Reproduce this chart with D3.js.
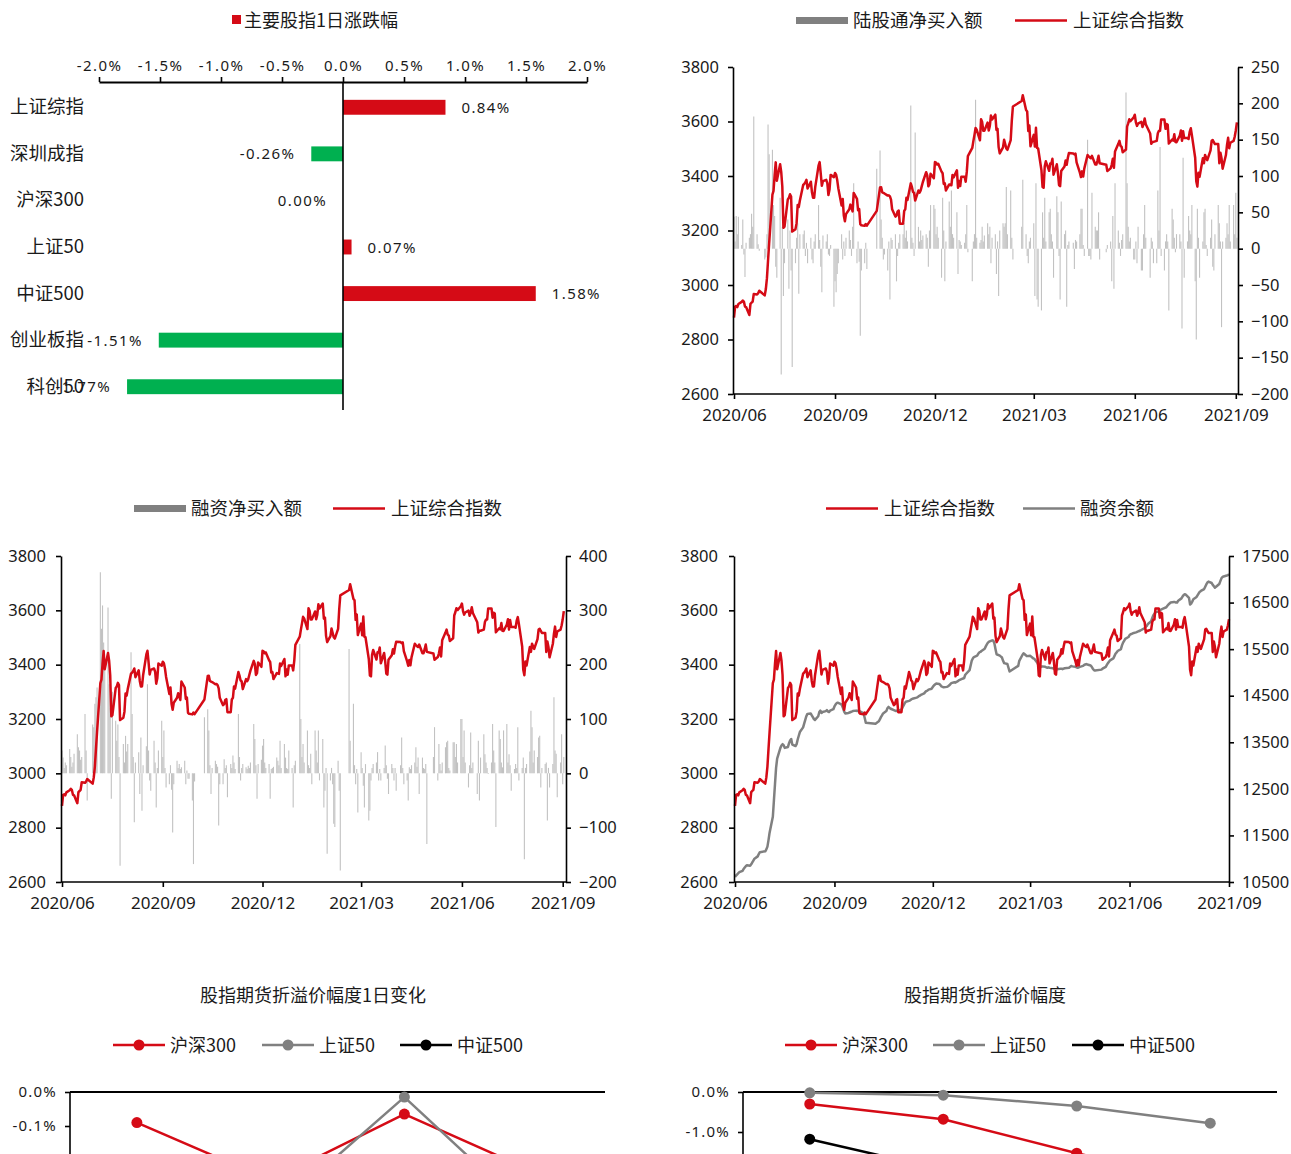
<!DOCTYPE html>
<html><head><meta charset="utf-8">
<script src="https://cdn.jsdelivr.net/npm/d3@7"></script>
<style>
html,body{margin:0;padding:0;background:#fff;overflow:hidden;}
svg{display:block;}
</style></head><body>
<svg id="c" width="1291" height="1154"></svg>
<script>
// ---------- DATA ----------
const barCategories = ["上证综指","深圳成指","沪深300","上证50","中证500","创业板指","科创50"];
const barValues = [0.84,-0.26,0.00,0.07,1.58,-1.51,-1.77];
const barTicks = [-2,-1.5,-1,-0.5,0,0.5,1,1.5,2];

const tradeMonths = [
 ["2020-06",[1,2,3,4,5,8,9,10,11,12,15,16,17,18,19,22,23,24,29,30]],
 ["2020-07",[1,2,3,6,7,8,9,10,13,14,15,16,17,20,21,22,23,24,27,28,29,30,31]],
 ["2020-08",[3,4,5,6,7,10,11,12,13,14,17,18,19,20,21,24,25,26,27,28,31]],
 ["2020-09",[1,2,3,4,7,8,9,10,11,14,15,16,17,18,21,22,23,24,25,28,29,30]],
 ["2020-10",[9,12,13,14,15,16,19,20,21,22,23,26,27,28,29,30]],
 ["2020-11",[2,3,4,5,6,9,10,11,12,13,16,17,18,19,20,23,24,25,26,27,30]],
 ["2020-12",[1,2,3,4,7,8,9,10,11,14,15,16,17,18,21,22,23,24,25,28,29,30,31]],
 ["2021-01",[4,5,6,7,8,11,12,13,14,15,18,19,20,21,22,25,26,27,28,29]],
 ["2021-02",[1,2,3,4,5,8,9,10,18,19,22,23,24,25,26]],
 ["2021-03",[1,2,3,4,5,8,9,10,11,12,15,16,17,18,19,22,23,24,25,26,29,30,31]],
 ["2021-04",[1,2,6,7,8,9,12,13,14,15,16,19,20,21,22,23,26,27,28,29,30]],
 ["2021-05",[6,7,10,11,12,13,14,17,18,19,20,21,24,25,26,27,28,31]],
 ["2021-06",[1,2,3,4,7,8,9,10,11,15,16,17,18,21,22,23,24,25,28,29,30]],
 ["2021-07",[1,2,5,6,7,8,9,12,13,14,15,16,19,20,21,22,23,26,27,28,29,30]],
 ["2021-08",[2,3,4,5,6,9,10,11,12,13,16,17,18,19,20,23,24,25,26,27,30,31]],
 ["2021-09",[1,2]]
];

// 上证综合指数
const sse = [
 2880,2921,2923,2919,2930,2938,2943,2939,2921,2919,2890,2931,2935,2939,2967,2965,2970,2979,2962,2985,
 3025,3090,3152,3332,3345,3403,3450,3383,3443,3415,3361,3210,3214,3314,3320,3333,3325,3196,3205,3227,3294,3286,3310,
 3367,3371,3377,3386,3354,3379,3340,3320,3320,3360,3438,3451,3409,3364,3381,3386,3374,3330,3350,3404,3396,
 3411,3405,3385,3355,3292,3316,3255,3234,3260,3278,3295,3283,3270,3338,3316,3274,3279,3223,3219,3217,3224,3218,
 3272,3358,3359,3340,3338,3336,3328,3329,3325,3313,3278,3251,3255,3270,3273,3225,
 3225,3272,3278,3320,3312,3373,3360,3342,3338,3310,3347,3339,3347,3363,3378,3414,3402,3362,3369,3408,3392,
 3451,3449,3442,3445,3416,3410,3371,3373,3347,3369,3367,3366,3404,3395,3421,3357,3382,3363,3397,3397,3379,3415,3473,
 3503,3528,3551,3576,3570,3531,3608,3598,3566,3566,3596,3567,3584,3622,3607,3625,3569,3573,3506,3483,
 3505,3533,3517,3501,3496,3532,3603,3655,3675,3696,3642,3637,3565,3585,3509,
 3551,3508,3577,3503,3501,3421,3360,3357,3436,3454,3419,3446,3445,3463,3405,3443,3411,3367,3363,3418,3435,3457,3441,
 3466,3484,3483,3479,3482,3450,3412,3396,3417,3398,3427,3477,3472,3468,3465,3474,3442,3442,3457,3474,3447,
 3441,3418,3428,3441,3463,3430,3490,3518,3529,3511,3507,3487,3497,3581,3593,3608,3601,3615,
 3625,3597,3584,3592,3599,3580,3591,3611,3590,3556,3518,3525,3525,3529,3557,3566,3566,3607,3607,3573,3591,
 3588,3519,3534,3530,3553,3525,3524,3548,3567,3529,3564,3539,3539,3536,3562,3575,3550,3467,3381,3361,3412,3397,
 3465,3447,3477,3467,3458,3494,3529,3532,3524,3517,3517,3447,3485,3465,3427,3477,3514,3540,3502,3522,3529,3544,
 3567,3597
];

// 陆股通净买入额（亿元）
const northbound = [
 44,10,45,20,44,5,40,-8,-39,8,15,20,48,30,182,20,6,-3,-15,-12,
 20,171,130,136,60,45,-25,-40,70,-173,30,-65,-20,40,-55,25,-30,-163,-20,15,35,-62,20,
 20,25,-10,8,-20,15,-15,-20,10,20,60,12,-25,-60,18,10,20,-8,-10,5,-80,
 -45,-60,-35,-20,20,-15,10,-10,15,25,12,-10,30,90,-20,10,-18,-120,-30,-20,8,-28,
 110,135,40,15,-15,-8,-30,10,-70,15,12,20,-45,-10,8,20,
 20,35,15,25,10,197,15,8,-10,160,30,10,25,12,18,20,15,-25,25,60,60,
 55,20,30,15,-40,70,25,-45,10,65,30,80,20,15,50,-35,12,10,5,8,20,60,-5,
 -45,10,20,205,15,8,12,30,10,18,35,20,30,-20,15,20,-35,10,-65,25,
 35,30,35,85,20,80,15,-15,30,95,20,-10,-20,10,15,
 35,-65,90,-70,-80,-85,50,15,70,10,50,55,20,10,-40,72,50,-10,-70,65,20,25,-80,
 5,10,8,-28,12,10,20,55,55,5,-10,150,-10,-10,-15,77,30,25,25,50,-15,
 -5,5,10,-45,45,-55,90,25,8,-10,12,20,215,90,30,10,15,-15,
 -15,10,-20,30,-30,-30,20,60,15,-40,15,10,-20,-20,80,25,140,-10,-30,10,20,
 10,-85,55,40,15,-5,20,20,10,-110,125,-40,10,45,25,20,60,-45,-125,55,15,-40,
 10,50,55,5,-10,15,40,-25,-30,20,60,35,10,-108,10,15,35,20,60,10,60,20,
 77,15
];

// 融资净买入额（亿元）
const marginNet = [
 42,29,10,20,15,45,30,12,20,36,72,48,42,25,30,109,42,-50,90,85,
 128,140,158,370,266,309,241,195,305,164,120,-47,150,97,60,90,30,-170,54,20,69,40,54,
 223,109,30,-90,20,39,-38,66,-69,15,50,164,42,-13,-32,60,20,-63,10,42,97,
 30,79,10,-26,-20,15,-30,-109,-20,23,10,17,8,11,23,-20,5,-10,-10,-50,-167,-15,
 103,118,79,15,-38,10,23,17,12,-96,-20,-20,26,10,15,-44,
 17,10,33,20,8,109,30,-13,10,17,11,8,14,10,20,91,63,15,-47,17,25,
 51,63,20,10,17,-47,8,10,12,29,23,15,60,10,54,29,10,8,42,10,-63,15,23,
 238,100,30,54,20,79,15,10,36,-20,79,42,20,79,-13,63,-63,-32,10,-148,
 -13,10,-20,-93,-99,23,-32,-179,229,60,128,15,-20,8,-72,
 39,10,-23,-63,17,-87,-69,-13,10,17,20,39,-13,8,-13,10,51,15,-10,-38,17,10,-13,
 10,-32,15,66,10,-20,-13,-50,11,8,15,20,48,12,29,-38,29,10,8,17,-130,
 30,85,-13,54,17,5,20,48,57,60,10,5,57,57,30,54,20,100,
 100,30,79,20,-26,15,75,10,20,-38,60,-50,29,72,35,20,10,-1,20,91,42,
 20,-99,79,63,20,11,79,91,20,35,15,-32,8,17,10,85,-13,10,29,-158,10,17,
 40,115,85,20,42,30,66,69,-26,10,17,20,-87,10,-26,17,140,42,36,-44,20,72,
 -20,30
];

// 融资余额（亿元），至 2021-09-01
const marginBal = [
 10610,10640,10660,10690,10710,10740,10780,10810,10840,10860,10850,10880,10920,10960,11000,11050,11100,11140,11160,11200,
 11260,11400,11560,11900,12250,12600,12950,13150,13380,13430,13460,13440,13380,13400,13480,13540,13570,13450,13420,13460,13560,13640,13720,
 13820,13900,13980,14060,14110,14120,14080,14040,14000,13980,14060,14150,14180,14130,14150,14170,14190,14160,14150,14180,14210,
 14270,14310,14340,14350,14320,14290,14230,14160,14120,14130,14140,14150,14160,14170,14180,14170,14180,14170,14160,14120,14020,13920,
 13900,13950,13990,14040,14080,14120,14170,14230,14260,14240,14220,14190,14180,14170,14180,14180,
 14200,14250,14290,14340,14370,14390,14400,14420,14430,14440,14460,14470,14490,14500,14520,14550,14580,14600,14610,14630,14650,
 14690,14720,14740,14760,14750,14730,14700,14690,14680,14690,14700,14720,14740,14770,14790,14780,14800,14810,14830,14860,14870,14880,14950,
 15050,15150,15250,15300,15330,15360,15400,15430,15440,15460,15510,15560,15600,15640,15660,15690,15680,15620,15500,15390,
 15360,15340,15320,15250,15200,15180,15100,15020,15140,15250,15380,15410,15390,15370,15350,
 15360,15340,15320,15300,15290,15200,15120,15110,15120,15130,15120,15110,15100,15110,15100,15090,15080,15060,15060,15070,15080,15080,15070,
 15080,15090,15100,15120,15140,15130,15120,15110,15100,15110,15120,15140,15160,15170,15180,15170,15150,15120,15080,15050,15040,
 15060,15080,15120,15160,15200,15230,15260,15300,15350,15400,15430,15460,15500,15580,15640,15680,15720,15760,
 15800,15820,15830,15840,15860,15870,15880,15890,15900,15950,15980,16000,16040,16100,16170,16230,16260,16290,16310,16330,16350,
 16360,16370,16400,16430,16460,16480,16500,16510,16510,16500,16500,16540,16590,16630,16660,16680,16670,16600,16460,16480,16520,16570,
 16620,16660,16700,16730,16750,16790,16840,16890,16930,16950,16920,16880,16850,16820,16840,16900,16960,17020,17050,17060,17080,17090,
 17110
];

const timeTicks = ["2020-06-01","2020-09-01","2020-12-01","2021-03-01","2021-06-01","2021-09-01"];
const leftTicks = [2600,2800,3000,3200,3400,3600,3800];
const northTicks = [-200,-150,-100,-50,0,50,100,150,200,250];
const marginNetTicks = [-200,-100,0,100,200,300,400];
const marginBalTicks = [10500,11500,12500,13500,14500,15500,16500,17500];

const futCategories = ["当月","下月","当季","下季"];
const futSeriesNames = ["沪深300","上证50","中证500"];
const futChange300 = [-0.09,-0.26,-0.065,-0.24];
const futChange50  = [-0.30,-0.36,-0.015,-0.38];
const futChange500 = [-0.45,-0.60,-0.35,-0.55];
const futChangeTicks = [0,-0.1];
const futLevel300 = [-0.30,-0.68,-1.53,-2.30];
const futLevel50  = [-0.02,-0.08,-0.35,-0.78];
const futLevel500 = [-1.18,-1.95,-2.90,-3.40];
const futLevelTicks = [0,-1];

// ---------- DRAW ----------
const RED = "#d50b16", GREEN = "#00b050", GRAY = "#808080", BARGRAY = "#c2c2c2", INK = "#1a1a1a";
const CJK = '"Noto Sans CJK SC","Noto Sans",sans-serif';
const NUM = '"Noto Sans","DejaVu Sans",sans-serif';
const svg = d3.select("#c");
const parse = d3.timeParse("%Y-%m-%d");
const dates = tradeMonths.flatMap(([m, days]) => days.map(d => parse(m + "-" + String(d).padStart(2, "0"))));
const tickDates = timeTicks.map(parse);
const intFmt = d3.format("d");

function styleAxis(sel, fs, family, ls) {
  sel.select(".domain").attr("stroke", "#000").attr("stroke-width", 1.6);
  sel.selectAll(".tick line").attr("stroke", "#000").attr("stroke-width", 1.6);
  sel.selectAll(".tick text").attr("fill", INK).style("font-size", fs + "px")
     .style("font-family", family || NUM).style("letter-spacing", ls || "0px");
}
function txt(x, y, s, size, anchor, family) {
  return svg.append("text").attr("x", x).attr("y", y).text(s)
    .attr("fill", INK).style("font-size", (size || 18) + "px")
    .style("font-family", family || CJK).attr("text-anchor", anchor || "start");
}

// ===== Panel 1: bar chart =====
(function () {
  const x = d3.scaleLinear().domain([-2, 2]).range([99, 587]);
  const y = d3.scaleBand().domain(barCategories).range([84, 410]).paddingInner(0.68).paddingOuter(0.34);
  svg.append("rect").attr("x", 232).attr("y", 15).attr("width", 9).attr("height", 9).attr("fill", RED);
  txt(244, 27, "主要股指1日涨跌幅", 18);
  const g = svg.append("g");
  g.selectAll("rect.bar").data(barCategories).join("rect")
    .attr("x", (c, i) => x(Math.min(0, barValues[i])))
    .attr("y", c => y(c))
    .attr("width", (c, i) => Math.abs(x(barValues[i]) - x(0)))
    .attr("height", y.bandwidth())
    .attr("fill", (c, i) => barValues[i] >= 0 ? RED : GREEN);
  const ax = svg.append("g").attr("transform", "translate(0,82)")
    .call(d3.axisTop(x).tickValues(barTicks).tickSize(5).tickPadding(6).tickSizeOuter(0)
      .tickFormat(v => (v < 0 ? "-" : "") + Math.abs(v).toFixed(1) + "%"));
  styleAxis(ax, 15, NUM, "1.4px");
  ax.select(".domain").attr("stroke-width", 2);
  svg.append("line").attr("x1", x(0)).attr("x2", x(0)).attr("y1", 82).attr("y2", 410)
    .attr("stroke", "#000").attr("stroke-width", 1.6);
  barCategories.forEach((c, i) => {
    const cy = y(c) + y.bandwidth() / 2;
    txt(84, cy + 6, c, 18.5, "end");
    const v = barValues[i];
    const lab = (v < 0 ? "-" : "") + Math.abs(v).toFixed(2) + "%";
    let tx, anc;
    if (v > 0) { tx = x(v) + 16; anc = "start"; }
    else { tx = x(v) - 16; anc = "end"; }
    txt(tx, cy + 5.5, lab, 15, anc, NUM).style("letter-spacing", "1.4px");
  });
})();

// ===== dual axis panels =====
function dualPanel(o) {
  const x = d3.scaleTime().domain([parse(o.start), parse(o.end)]).range([o.x0, o.x1]);
  const yL = d3.scaleLinear().domain([2600, 3800]).range([o.yB, o.yT]);
  const yR = d3.scaleLinear().domain(o.rDomain).range([o.yB, o.yT]);
  const n = o.n;
  if (o.bars) {
    svg.append("g").selectAll("line").data(d3.range(n)).join("line")
      .attr("x1", i => x(dates[i])).attr("x2", i => x(dates[i]))
      .attr("y1", yR(0)).attr("y2", i => yR(o.bars[i]))
      .attr("stroke", BARGRAY).attr("stroke-width", 1.1);
  }
  if (o.rline) {
    svg.append("path").datum(d3.range(n))
      .attr("d", d3.line().x(i => x(dates[i])).y(i => yR(o.rline[i])))
      .attr("fill", "none").attr("stroke", GRAY).attr("stroke-width", 2.5).attr("stroke-linejoin", "round");
  }
  svg.append("path").datum(d3.range(n))
    .attr("d", d3.line().x(i => x(dates[i])).y(i => yL(sse[i])))
    .attr("fill", "none").attr("stroke", RED).attr("stroke-width", 2.5).attr("stroke-linejoin", "round");
  const gl = svg.append("g").attr("transform", `translate(${o.x0 - 1},0)`)
    .call(d3.axisLeft(yL).tickValues(leftTicks).tickSize(5).tickPadding(o.lpad || 9).tickSizeOuter(0).tickFormat(intFmt));
  styleAxis(gl, 16.5);
  const gr = svg.append("g").attr("transform", `translate(${o.x1},0)`)
    .call(d3.axisRight(yR).tickValues(o.rTicks).tickSize(5).tickPadding(8).tickSizeOuter(0).tickFormat(intFmt));
  styleAxis(gr, 16.5);
  const gb = svg.append("g").attr("transform", `translate(0,${o.yB})`)
    .call(d3.axisBottom(x).tickValues(tickDates).tickSize(5).tickPadding(10).tickSizeOuter(0)
      .tickFormat(d3.timeFormat("%Y/%m")));
  styleAxis(gb, 17);
  gb.select(".domain").attr("d", `M${o.x0 - 1},0H${o.x1}`);
}

// Panel 2
dualPanel({ start: "2020-06-01", end: "2021-09-03", x0: 734, x1: 1238, yT: 67, yB: 394,
  rDomain: [-200, 250], rTicks: northTicks, bars: northbound, n: sse.length });
svg.append("rect").attr("x", 796).attr("y", 17).attr("width", 52).attr("height", 7).attr("fill", GRAY);
txt(853, 27, "陆股通净买入额", 18.5);
svg.append("line").attr("x1", 1015).attr("x2", 1067).attr("y1", 20.5).attr("y2", 20.5).attr("stroke", RED).attr("stroke-width", 2.5);
txt(1073, 27, "上证综合指数", 18.5);

// Panel 3
dualPanel({ start: "2020-06-01", end: "2021-09-04", x0: 62, x1: 566, yT: 556, yB: 882,
  rDomain: [-200, 400], rTicks: marginNetTicks, bars: marginNet, n: sse.length, lpad: 10 });
svg.append("rect").attr("x", 134).attr("y", 505).attr("width", 52).attr("height", 7).attr("fill", GRAY);
txt(191, 515, "融资净买入额", 18.5);
svg.append("line").attr("x1", 333).attr("x2", 385).attr("y1", 508.5).attr("y2", 508.5).attr("stroke", RED).attr("stroke-width", 2.5);
txt(391, 515, "上证综合指数", 18.5);

// Panel 4
dualPanel({ start: "2020-06-01", end: "2021-09-01", x0: 735, x1: 1229, yT: 556, yB: 882,
  rDomain: [10500, 17500], rTicks: marginBalTicks, rline: marginBal, n: marginBal.length, lpad: 11 });
svg.append("line").attr("x1", 826).attr("x2", 878).attr("y1", 508.5).attr("y2", 508.5).attr("stroke", RED).attr("stroke-width", 2.5);
txt(884, 515, "上证综合指数", 18.5);
svg.append("line").attr("x1", 1023).attr("x2", 1075).attr("y1", 508.5).attr("y2", 508.5).attr("stroke", GRAY).attr("stroke-width", 2.5);
txt(1080, 515, "融资余额", 18.5);

// ===== futures panels =====
function futPanel(o) {
  const x = d3.scalePoint().domain(futCategories).range([o.x0, o.x1]).padding(0.5);
  const y = d3.scaleLinear().domain([o.min, 0]).range([o.y0 + o.span, o.y0]);
  txt(o.titleX, 1002, o.title, 18, "middle");
  const colors = [RED, GRAY, "#000"];
  o.legX.forEach((lx, k) => {
    svg.append("line").attr("x1", lx).attr("x2", lx + 52).attr("y1", 1045).attr("y2", 1045)
      .attr("stroke", colors[k]).attr("stroke-width", 2.5);
    svg.append("circle").attr("cx", lx + 26).attr("cy", 1045).attr("r", 5.5).attr("fill", colors[k]);
    txt(lx + 57, 1052, futSeriesNames[k], 18);
  });
  const ga = svg.append("g").attr("transform", `translate(${o.x0},0)`)
    .call(d3.axisLeft(y).tickValues(o.ticks).tickSize(5).tickPadding(8).tickSizeOuter(0)
      .tickFormat(v => (v < 0 ? "-" : "") + Math.abs(v).toFixed(1) + "%"));
  styleAxis(ga, 15, NUM, "1.2px");
  ga.select(".domain").attr("d", `M0,${o.y0}V${o.y0 + o.span}`);
  svg.append("line").attr("x1", o.x0).attr("x2", o.x1).attr("y1", y(0)).attr("y2", y(0))
    .attr("stroke", "#000").attr("stroke-width", 2);
  o.series.forEach((vals, k) => {
    svg.append("path").datum(vals)
      .attr("d", d3.line().x((v, i) => x(futCategories[i])).y(v => y(v)))
      .attr("fill", "none").attr("stroke", colors[k]).attr("stroke-width", 2.5);
    svg.append("g").selectAll("circle").data(vals).join("circle")
      .attr("cx", (v, i) => x(futCategories[i])).attr("cy", v => y(v)).attr("r", 5.5).attr("fill", colors[k]);
  });
}
futPanel({ x0: 70, x1: 605, y0: 1092, span: 170, min: -0.5, ticks: futChangeTicks,
  title: "股指期货折溢价幅度1日变化", titleX: 313, legX: [113, 262, 400],
  series: [futChange300, futChange50, futChange500] });
futPanel({ x0: 743, x1: 1277, y0: 1092, span: 160, min: -4, ticks: futLevelTicks,
  title: "股指期货折溢价幅度", titleX: 985, legX: [785, 933, 1072],
  series: [futLevel300, futLevel50, futLevel500] });
</script>
</body></html>
